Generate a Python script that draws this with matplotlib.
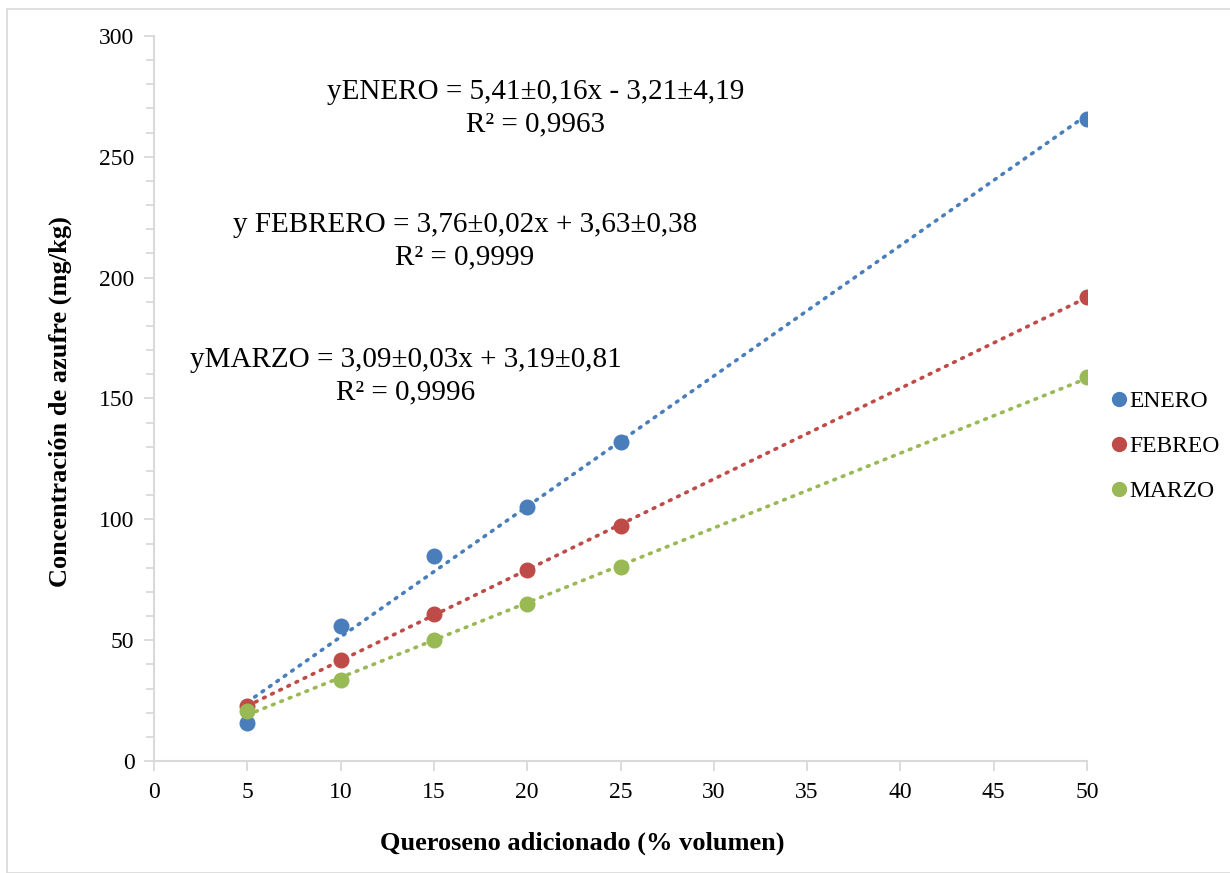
import numpy as np
import matplotlib.pyplot as plt
from matplotlib.patches import Rectangle
from matplotlib.lines import Line2D

plt.rcParams['font.family'] = ['Liberation Serif', 'DejaVu Serif']

x = [5, 10, 15, 20, 25, 50]
enero = [15.7, 55.9, 84.8, 105.0, 132.0, 265.6]
febreo = [22.7, 41.8, 60.8, 79.0, 97.2, 192.0]
marzo = [20.7, 33.5, 50.0, 65.0, 80.3, 158.9]

series = ['ENERO', 'FEBREO', 'MARZO']
colors = ['#4a7ebb', '#be4b48', '#98b954']
eqs = ['yENERO = 5,41±0,16x - 3,21±4,19\nR² = 0,9963',
       'y FEBRERO = 3,76±0,02x + 3,63±0,38\nR² = 0,9999',
       'yMARZO = 3,09±0,03x + 3,19±0,81\nR² = 0,9996']

fig = plt.figure(figsize=(12.3, 8.73), dpi=100)
fig.patches.append(Rectangle((7/1230, 0), 1.2, 1 - 9/873, transform=fig.transFigure,
                             fill=False, edgecolor='#d9d9d9', linewidth=1.2))
ax = fig.add_axes([154/1230, 1 - 761/873, (1087 - 154)/1230, (761 - 36)/873])

handles = []
for vals, col, name in zip([enero, febreo, marzo], colors, series):
    m, b = np.polyfit(x, vals, 1)
    xx = np.array([x[0], x[-1]])
    ax.plot(xx, m * xx + b, linestyle=(0, (0.5, 2.0)), color=col, linewidth=2.6,
            dash_capstyle='round', zorder=2)
    ax.plot(x, vals, 'o', color=col, markersize=10.5, zorder=3)
    handles.append(Line2D([], [], marker='o', color=col, linestyle='none', markersize=10))

ax.set_xlim(0, 50)
ax.set_ylim(0, 300)
ax.set_xticks(range(0, 51, 5))
ax.set_yticks(range(0, 301, 50))
ax.set_yticks(range(0, 301, 10), minor=True)
for s in ['top', 'right']:
    ax.spines[s].set_visible(False)
for s in ['left', 'bottom']:
    ax.spines[s].set_color('#d9d9d9')
    ax.spines[s].set_linewidth(1.5)
ax.tick_params(which='both', color='#d9d9d9', width=1.3, labelsize=17, direction='out')
ax.tick_params(which='major', length=7, pad=7)
ax.tick_params(which='minor', length=6)
ax.tick_params(axis='x', pad=8)

fig.text(536/1230, 1 - 108/873, eqs[0], ha='center', va='center', fontsize=21, linespacing=1.3)
fig.text(465/1230, 1 - 241/873, eqs[1], ha='center', va='center', fontsize=21, linespacing=1.3)
fig.text(406/1230, 1 - 376/873, eqs[2], ha='center', va='center', fontsize=21, linespacing=1.3)

fig.text(60/1230, 1 - 402/873, 'Concentración de azufre (mg/kg)', rotation=90,
         ha='center', va='center', fontsize=19, fontweight='bold')
fig.text(582/1230, 1 - 843/873, 'Queroseno adicionado (% volumen)',
         ha='center', va='center', fontsize=19, fontweight='bold')

fig.legend(handles, series, loc='upper left', bbox_to_anchor=(1102/1230, 1 - 381/873),
           frameon=False, fontsize=17, handlelength=0.6, handletextpad=0.15,
           labelspacing=1.0, borderaxespad=0)

fig.savefig('out.png', dpi=100)
